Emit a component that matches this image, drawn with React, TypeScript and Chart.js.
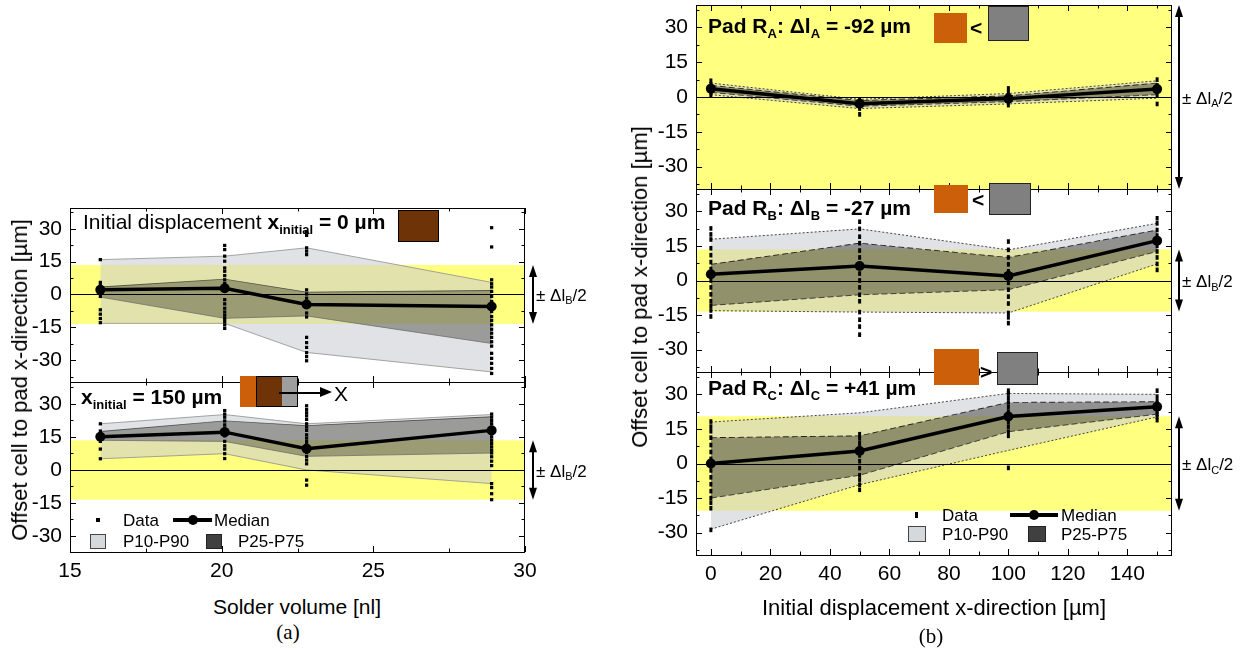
import React, { useEffect, useRef } from 'react';
import { Chart, registerables } from 'chart.js';

Chart.register(...registerables);

const SANS = '"Liberation Sans", Arial, Helvetica, sans-serif';
const SERIF = '"Liberation Serif", "Times New Roman", serif';

// ---------------- Panel (a): solder volume ----------------
const solderVolume = [16.0, 20.1, 22.8, 28.9];

// x_initial = 0 µm
const a0Median = [2.1, 2.8, -4.6, -5.5];
const a0P90 = [15.9, 17.5, 21.3, 5.5];
const a0P75 = [3.4, 7.0, 1.1, 1.8];
const a0P25 = [-1.2, -10.9, -9.8, -22.4];
const a0P10 = [-13.2, -13.2, -26.5, -35.4];
const a0Data16 = [15.9, 5.5, 4.0, 2.9, 1.4, -0.9, -7.0, -9.0, -11.0, -12.9];
const a0Data20 = [22.4, 20.5, 17.5, 15.2, 12.1, 10.6, 8.6, 6.7, 5.0, 3.3, 1.4, -2.4, -4.3, -6.3, -8.0, -9.5, -11.0, -12.4, -13.9, -15.5];
const a0Data23 = [28.5, 27.0, 21.3, 19.8, 18.2, 2.1, 0.2, -1.7, -4.0, -5.5, -8.5, -10.3, -19.6, -22.0, -24.2, -26.6, -28.4, -30.3];
const a0Data29 = [30.5, 21.7, 6.7, 4.9, 3.4, 1.4, -0.9, -3.2, -5.5, -7.8, -10.1, -11.9, -13.9, -15.9, -17.7, -19.6, -21.6, -23.6, -26.9, -29.2, -31.5, -33.8, -36.1];

// x_initial = 150 µm
const a150Median = [15.1, 17.2, 9.7, 18.0];
const a150P90 = [21.0, 25.2, 21.0, 25.2];
const a150P75 = [17.5, 22.3, 20.2, 24.2];
const a150P25 = [13.5, 13.0, 6.2, 7.7];
const a150P10 = [5.1, 7.4, 0.0, -6.2];
const a150Data16 = [21.0, 17.7, 15.1, 13.0, 9.5, 5.1];
const a150Data20 = [27.0, 25.4, 24.0, 22.3, 20.5, 19.0, 17.2, 15.5, 13.0, 11.0, 9.5, 7.4, 5.2];
const a150Data23 = [29.2, 27.5, 26.0, 24.6, 23.0, 21.0, 19.5, 18.0, 16.0, 14.5, 13.0, 11.5, 9.7, 8.0, 6.2, 4.5, 2.8, -4.6, -6.9];
const a150Data29 = [25.4, 24.0, 22.5, 21.0, 19.5, 18.0, 16.5, 15.0, 13.5, 12.0, 10.5, 9.0, 7.7, 6.0, 4.0, 2.0, -6.2, -8.0, -10.8, -13.5];

// ---------------- Panel (b): initial displacement ----------------
const displacement = [0, 50, 100, 150];

// Pad R_A
const raMedian = [3.6, -2.9, -0.7, 3.4];
const raP90 = [6.0, -1.0, 1.5, 7.0];
const raP75 = [5.0, -1.5, 0.5, 6.0];
const raP25 = [2.0, -4.0, -2.0, 1.0];
const raP10 = [1.0, -5.0, -3.0, -0.5];
const raData0 = [7.0, 5.5, 3.5, 2.0, 1.0];
const raData50 = [-1.0, -2.5, -3.5, -5.0, -7.5];
const raData100 = [3.7, 2.0, 0.0, -1.5, -3.5];
const raData150 = [7.5, 5.0, 3.5, 1.0, -3.0];

// Pad R_B
const rbMedian = [2.7, 6.3, 2.0, 17.3];
const rbP90 = [17.9, 22.4, 13.3, 24.8];
const rbP75 = [7.0, 16.2, 10.0, 21.9];
const rbP25 = [-10.8, -6.2, -4.0, 12.6];
const rbP10 = [-13.1, -13.7, -14.1, 7.2];
const rbData0 = [22.6, 20.0, 17.8, 14.0, 11.0, 8.0, 5.0, 2.5, 0.0, -3.0, -6.0, -9.0, -11.0, -13.0, -15.6];
const rbData50 = [25.5, 22.4, 19.0, 16.2, 13.0, 10.0, 6.3, 3.0, 0.0, -3.0, -6.2, -9.0, -13.7, -17.0, -20.0, -23.5];
const rbData100 = [16.9, 13.3, 10.0, 7.0, 4.0, 2.0, -1.0, -4.0, -7.0, -10.0, -14.1, -16.0, -18.5];
const rbData150 = [27.0, 24.8, 21.9, 19.5, 17.3, 15.0, 12.6, 10.0, 7.2, 4.6];

// Pad R_C
const rcMedian = [0.0, 5.4, 20.4, 24.6];
const rcP90 = [18.0, 22.0, 30.4, 30.0];
const rcP75 = [11.2, 12.0, 26.5, 26.8];
const rcP25 = [-15.0, -5.1, 13.8, 21.4];
const rcP10 = [-28.5, -9.2, 5.7, 20.2];
const rcData0 = [18.2, 16.0, 14.0, 11.2, 8.0, 5.0, 2.0, 0.0, -3.0, -6.0, -9.0, -12.0, -15.0, -17.0, -19.4, -28.8];
const rcData50 = [12.7, 11.0, 9.0, 7.0, 5.4, 3.5, 1.0, -2.0, -5.1, -7.0, -9.2, -11.4];
const rcData100 = [31.6, 30.4, 28.5, 26.5, 24.5, 22.5, 20.4, 18.0, 16.0, 13.8, 12.0, -1.9];
const rcData150 = [31.6, 29.0, 27.0, 26.0, 24.6, 22.5, 21.4, 20.2, 18.8];

// tolerance half widths ±Δl/2
const halfDlB = 13.5;
const halfDlA = 46;
const halfDlC = 20.5;

// ticks
const yTicks = [-30, -15, 0, 15, 30];
const yMinor = [-37.5, -22.5, -7.5, 7.5, 22.5, 37.5];
const xTicksA = [15, 20, 25, 30];
const xMinorA = [17.5, 22.5, 27.5];
const xTicksB = [0, 20, 40, 60, 80, 100, 120, 140];
const xMinorB = [10, 30, 50, 70, 90, 110, 130, 150];

// ---------------- layout ----------------
const AXW = 70; // width reserved for y tick labels
const PT = 28; // top padding of each canvas
const PB = 28; // bottom padding of canvases without x axis
const XH = 42; // x-axis height
const YELLOW = 'rgb(255,255,128)';
const LIGHT = 'rgba(200,203,207,0.55)';

type Sub = {
  x: number[];
  median: number[];
  p10: number[];
  p25: number[];
  p75: number[];
  p90: number[];
  data: number[][];
  band: number;
  bandSub: string;
  xMin: number;
  xMax: number;
  yMin: number;
  yMax: number;
  xTicks: number[];
  xMinor: number[];
  showX: boolean;
  look: 'a' | 'b';
  frameLeft: number;
  frameTop: number;
  frameW: number;
  frameH: number;
  rightPad: number;
};

const subs: Sub[] = [
  {
    x: solderVolume, median: a0Median, p10: a0P10, p25: a0P25, p75: a0P75, p90: a0P90,
    data: [a0Data16, a0Data20, a0Data23, a0Data29], band: halfDlB, bandSub: 'B',
    xMin: 15, xMax: 30, yMin: -40, yMax: 39.5, xTicks: xTicksA, xMinor: xMinorA, showX: false, look: 'a',
    frameLeft: 70, frameTop: 208, frameW: 455, frameH: 174, rightPad: 75,
  },
  {
    x: solderVolume, median: a150Median, p10: a150P10, p25: a150P25, p75: a150P75, p90: a150P90,
    data: [a150Data16, a150Data20, a150Data23, a150Data29], band: halfDlB, bandSub: 'B',
    xMin: 15, xMax: 30, yMin: -37.3, yMax: 40, xTicks: xTicksA, xMinor: xMinorA, showX: true, look: 'a',
    frameLeft: 70, frameTop: 382, frameW: 455, frameH: 170, rightPad: 75,
  },
  {
    x: displacement, median: raMedian, p10: raP10, p25: raP25, p75: raP75, p90: raP90,
    data: [raData0, raData50, raData100, raData150], band: halfDlA, bandSub: 'A',
    xMin: -5, xMax: 155, yMin: -39.7, yMax: 39.7, xTicks: xTicksB, xMinor: xMinorB, showX: false, look: 'b',
    frameLeft: 696, frameTop: 5, frameW: 476, frameH: 184, rightPad: 76,
  },
  {
    x: displacement, median: rbMedian, p10: rbP10, p25: rbP25, p75: rbP75, p90: rbP90,
    data: [rbData0, rbData50, rbData100, rbData150], band: halfDlB, bandSub: 'B',
    xMin: -5, xMax: 155, yMin: -39.7, yMax: 39.7, xTicks: xTicksB, xMinor: xMinorB, showX: false, look: 'b',
    frameLeft: 696, frameTop: 189, frameW: 476, frameH: 183, rightPad: 76,
  },
  {
    x: displacement, median: rcMedian, p10: rcP10, p25: rcP25, p75: rcP75, p90: rcP90,
    data: [rcData0, rcData50, rcData100, rcData150], band: halfDlC, bandSub: 'C',
    xMin: -5, xMax: 155, yMin: -39.7, yMax: 39.7, xTicks: xTicksB, xMinor: xMinorB, showX: true, look: 'b',
    frameLeft: 696, frameTop: 372, frameW: 476, frameH: 183, rightPad: 76,
  },
];

function canvasBox(s: Sub) {
  const left = s.frameLeft - AXW;
  const top = s.frameTop - PT;
  const width = AXW + s.frameW + s.rightPad;
  const height = PT + s.frameH + (s.showX ? XH : PB);
  return { left, top, width, height };
}

function makeConfig(s: Sub): any {
  const pts = (ys: number[]) => ys.map((y, i) => ({ x: s.x[i], y }));
  const scatter: { x: number; y: number }[] = [];
  s.data.forEach((col, i) => col.forEach((v) => scatter.push({ x: s.x[i], y: v })));
  const isA = s.look === 'a';
  // dark band is multiplied onto the light band / yellow
  const dark = isA ? 'rgb(176,176,172)' : 'rgb(164,164,160)';
  const outer = isA
    ? { borderColor: '#8f8f8f', borderWidth: 0.8, borderDash: [] as number[] }
    : { borderColor: '#333', borderWidth: 0.9, borderDash: [2, 2] };
  const inner = isA
    ? { borderColor: '#6f6f6f', borderWidth: 0.8, borderDash: [] as number[] }
    : { borderColor: '#333', borderWidth: 0.9, borderDash: [6, 3] };

  const deco = {
    id: 'deco',
    beforeDatasetsDraw(chart: any) {
      const { ctx, chartArea: a } = chart;
      const y = chart.scales.y;
      ctx.save();
      ctx.beginPath();
      ctx.rect(a.left, a.top, a.right - a.left, a.bottom - a.top);
      ctx.clip();
      ctx.fillStyle = YELLOW;
      const yt = y.getPixelForValue(s.band);
      const yb = y.getPixelForValue(-s.band);
      ctx.fillRect(a.left, yt, a.right - a.left, yb - yt);
      ctx.restore();
    },
    afterDatasetDraw(chart: any, args: any) {
      const ctx = chart.ctx;
      if (args.index === 4) ctx.globalCompositeOperation = 'multiply';
      if (args.index === 3) ctx.globalCompositeOperation = 'source-over';
    },
    afterDatasetsDraw(chart: any) {
      const { ctx, chartArea: a } = chart;
      const y = chart.scales.y;
      ctx.save();
      ctx.globalCompositeOperation = 'source-over';
      const y0 = Math.round(y.getPixelForValue(0)) + 0.5;
      ctx.strokeStyle = '#000';
      ctx.lineWidth = 1;
      ctx.beginPath();
      ctx.moveTo(a.left, y0);
      ctx.lineTo(a.right, y0);
      ctx.stroke();
      ctx.restore();
    },
    afterDraw(chart: any) {
      const { ctx, chartArea: a } = chart;
      const x = chart.scales.x;
      const y = chart.scales.y;
      const L = Math.round(a.left);
      const R = Math.round(a.right);
      const T = Math.round(a.top);
      const B = Math.round(a.bottom);
      ctx.save();
      ctx.globalCompositeOperation = 'source-over';
      ctx.strokeStyle = '#000';
      ctx.lineWidth = 1;
      ctx.strokeRect(L + 0.5, T + 0.5, R - L - 1, B - T);
      const tick = (px: number, len: number, vertical: boolean) => {
        ctx.beginPath();
        if (vertical) {
          ctx.moveTo(px, B);
          ctx.lineTo(px, B - len);
          ctx.moveTo(px, T);
          ctx.lineTo(px, T + len);
        } else {
          ctx.moveTo(L, px);
          ctx.lineTo(L + len, px);
          ctx.moveTo(R, px);
          ctx.lineTo(R - len, px);
        }
        ctx.stroke();
      };
      s.xTicks.forEach((v) => tick(Math.round(x.getPixelForValue(v)) + 0.5, 6, true));
      s.xMinor.forEach((v) => tick(Math.round(x.getPixelForValue(v)) + 0.5, 3.5, true));
      yTicks.forEach((v) => tick(Math.round(y.getPixelForValue(v)) + 0.5, 6, false));
      yMinor
        .filter((v) => v > s.yMin && v < s.yMax)
        .forEach((v) => tick(Math.round(y.getPixelForValue(v)) + 0.5, 3.5, false));

      // ± Δl/2 arrow
      const xr = R + (isA ? 8 : 7);
      const yt = Math.max(y.getPixelForValue(s.band), a.top);
      const yb = Math.min(y.getPixelForValue(-s.band), a.bottom);
      const ah = 12;
      const aw = 4;
      ctx.fillStyle = '#000';
      ctx.lineWidth = 2;
      ctx.beginPath();
      ctx.moveTo(xr, yt + ah - 1);
      ctx.lineTo(xr, yb - ah + 1);
      ctx.stroke();
      ctx.beginPath();
      ctx.moveTo(xr, yt);
      ctx.lineTo(xr - aw, yt + ah);
      ctx.lineTo(xr + aw, yt + ah);
      ctx.closePath();
      ctx.fill();
      ctx.beginPath();
      ctx.moveTo(xr, yb);
      ctx.lineTo(xr - aw, yb - ah);
      ctx.lineTo(xr + aw, yb - ah);
      ctx.closePath();
      ctx.fill();

      const ty = y.getPixelForValue(0) + 2;
      let tx = xr + 3;
      ctx.textBaseline = 'middle';
      ctx.textAlign = 'left';
      ctx.font = `17px ${SANS}`;
      ctx.fillText('\u00b1 \u0394l', tx, ty);
      tx += ctx.measureText('\u00b1 \u0394l').width;
      ctx.font = `11px ${SANS}`;
      ctx.fillText(s.bandSub, tx, ty + 5);
      tx += ctx.measureText(s.bandSub).width;
      ctx.font = `17px ${SANS}`;
      ctx.fillText('/2', tx, ty);
      ctx.restore();
    },
  };

  const tickFont = { family: SANS, size: 21 };

  return {
    type: 'line',
    data: {
      datasets: [
        {
          label: 'Median', data: pts(s.median), borderColor: '#000', borderWidth: 3.5,
          pointRadius: 5, pointHoverRadius: 5, pointBackgroundColor: '#000', pointBorderColor: '#000',
          pointBorderWidth: 0, fill: false, tension: 0,
        },
        {
          label: 'Data', data: scatter, showLine: false,
          pointStyle: isA ? 'rect' : 'line', rotation: isA ? 0 : 90,
          pointRadius: 2.3, pointHoverRadius: 2.3,
          pointBackgroundColor: '#000', pointBorderColor: '#000', pointBorderWidth: isA ? 0 : 3,
          borderWidth: 0, fill: false,
        },
        { label: 'P25', data: pts(s.p25), ...inner, pointRadius: 0, fill: false, tension: 0 },
        { label: 'P75', data: pts(s.p75), ...inner, pointRadius: 0, fill: 2, backgroundColor: dark, tension: 0 },
        { label: 'P10', data: pts(s.p10), ...outer, pointRadius: 0, fill: false, tension: 0 },
        { label: 'P90', data: pts(s.p90), ...outer, pointRadius: 0, fill: 4, backgroundColor: LIGHT, tension: 0 },
      ],
    },
    options: {
      responsive: false,
      maintainAspectRatio: false,
      animation: false,
      devicePixelRatio: 1,
      events: [],
      layout: { padding: { top: PT, right: s.rightPad, bottom: s.showX ? 0 : PB, left: 0 } },
      plugins: { legend: { display: false }, tooltip: { enabled: false } },
      scales: {
        x: {
          type: 'linear', min: s.xMin, max: s.xMax, display: s.showX,
          afterBuildTicks: (sc: any) => { sc.ticks = s.xTicks.map((v) => ({ value: v })); },
          afterFit: (sc: any) => { sc.height = s.showX ? XH : 0; },
          ticks: { font: tickFont, color: '#000', padding: 7, maxRotation: 0, autoSkip: false },
          grid: { display: false, drawTicks: false },
          border: { display: false },
        },
        y: {
          type: 'linear', min: s.yMin, max: s.yMax,
          afterBuildTicks: (sc: any) => { sc.ticks = yTicks.map((v) => ({ value: v })); },
          afterFit: (sc: any) => { sc.width = AXW; },
          ticks: { font: tickFont, color: '#000', padding: 8, autoSkip: false },
          grid: { display: false, drawTicks: false },
          border: { display: false },
        },
      },
    },
    plugins: [deco],
  };
}

function SubChart({ s }: { s: Sub }) {
  const ref = useRef<HTMLCanvasElement | null>(null);
  const box = canvasBox(s);
  useEffect(() => {
    if (!ref.current) return;
    const chart = new Chart(ref.current, makeConfig(s));
    return () => chart.destroy();
  }, []);
  return (
    <canvas
      ref={ref}
      width={box.width}
      height={box.height}
      style={{ position: 'absolute', left: box.left, top: box.top, width: box.width, height: box.height }}
    />
  );
}

const Txt = ({ left, cy, size = 21, bold = false, family = SANS, children }: any) => (
  <div
    style={{
      position: 'absolute', left, top: cy, transform: 'translateY(-50%)', fontFamily: family,
      fontSize: size, fontWeight: bold ? 'bold' : 'normal', lineHeight: 1, whiteSpace: 'nowrap', color: '#000',
    }}
  >
    {children}
  </div>
);

const CTxt = ({ cx, cy, size = 21, family = SANS, rotate = false, children }: any) => (
  <div
    style={{
      position: 'absolute', left: cx, top: cy,
      transform: `translate(-50%,-50%)${rotate ? ' rotate(-90deg)' : ''}`,
      fontFamily: family, fontSize: size, lineHeight: 1, whiteSpace: 'nowrap', color: '#000',
    }}
  >
    {children}
  </div>
);

const Sub2 = ({ children }: any) => (
  <span style={{ fontSize: '0.62em', position: 'relative', top: '0.35em' }}>{children}</span>
);

const Box = ({ left, top, w, h, bg, border }: any) => (
  <div
    style={{
      position: 'absolute', left, top, width: w, height: h, background: bg,
      border: border || 'none', boxSizing: 'border-box',
    }}
  />
);

const ORANGE = 'rgb(204,96,10)';
const BROWN = 'rgb(110,52,8)';
const PADGRAY = 'rgb(128,128,128)';

function Legend({ cy1, cy2, dataMarkB, x }: any) {
  return (
    <>
      {dataMarkB ? (
        <Box left={x.dm - 1.5} top={cy1 - 3} w={3} h={6} bg="#000" />
      ) : (
        <Box left={x.dm - 2} top={cy1 - 2} w={4} h={4} bg="#000" />
      )}
      <Txt left={x.dt} cy={cy1} size={17}>Data</Txt>
      <Box left={x.ml} top={cy1 - 1.75} w={x.mw} h={3.5} bg="#000" />
      <div
        style={{
          position: 'absolute', left: x.ml + x.mw / 2 - 5, top: cy1 - 5, width: 10, height: 10,
          borderRadius: 5, background: '#000',
        }}
      />
      <Txt left={x.mt} cy={cy1} size={17}>Median</Txt>
      <Box left={x.lb} top={cy2 - x.bh / 2} w={x.bw} h={x.bh} bg="rgb(214,217,219)" border="1px solid #444" />
      <Txt left={x.lt} cy={cy2} size={17}>P10-P90</Txt>
      <Box left={x.db} top={cy2 - x.bh / 2} w={x.bw} h={x.bh} bg="rgb(64,64,64)" border="1px solid #222" />
      <Txt left={x.dt2} cy={cy2} size={17}>P25-P75</Txt>
    </>
  );
}

export default function App() {
  return (
    <div
      style={{
        position: 'absolute', left: 0, top: 0, width: 1248, height: 657, background: '#fff', overflow: 'hidden',
      }}
    >
      {subs.map((s, i) => (
        <SubChart key={i} s={s} />
      ))}

      {/* axis titles */}
      <CTxt cx={20} cy={380} size={22} rotate>Offset cell to pad x-direction [µm]</CTxt>
      <CTxt cx={297} cy={606}>Solder volume [nl]</CTxt>
      <CTxt cx={288} cy={632} family={SERIF}>(a)</CTxt>
      <CTxt cx={640} cy={287} size={22} rotate>Offset cell to pad x-direction [µm]</CTxt>
      <CTxt cx={934} cy={608} size={22}>Initial displacement x-direction [µm]</CTxt>
      <CTxt cx={931} cy={636} family={SERIF}>(b)</CTxt>

      {/* panel (a) annotations */}
      <Txt left={83} cy={221}>
        Initial displacement <b>x<Sub2>initial</Sub2> = 0 µm</b>
      </Txt>
      <Box left={398} top={210} w={41} h={32} bg={BROWN} border="1px solid #000" />
      <Txt left={81} cy={396} bold>
        x<Sub2>initial</Sub2> = 150 µm
      </Txt>
      <Box left={240} top={376} w={16} h={31} bg={ORANGE} />
      <Box left={256} top={376} w={26} h={31} bg={BROWN} />
      <Box left={282} top={376} w={16} h={31} bg="rgb(158,158,158)" />
      <Box left={256} top={376} w={42} h={31} bg="transparent" border="1.5px solid #000" />
      <Box left={279} top={391.5} w={43} h={2.5} bg="#000" />
      <div
        style={{
          position: 'absolute', left: 320, top: 387, width: 0, height: 0,
          borderLeft: '12px solid #000', borderTop: '5.5px solid transparent', borderBottom: '5.5px solid transparent',
        }}
      />
      <Txt left={334} cy={393}>X</Txt>
      <Legend
        cy1={520}
        cy2={541}
        x={{ dm: 98, dt: 123, ml: 173, mw: 39, mt: 214, lb: 90, lt: 123, db: 206, dt2: 238, bw: 16, bh: 15 }}
      />

      {/* panel (b) annotations */}
      <Txt left={708} cy={25} bold>
        Pad R<Sub2>A</Sub2>: Δl<Sub2>A</Sub2> = -92 µm
      </Txt>
      <Box left={934} top={13} w={33} h={30} bg={ORANGE} />
      <Txt left={970} cy={27} bold>&lt;</Txt>
      <Box left={988} top={6} w={41} h={35} bg={PADGRAY} border="1.5px solid #222" />

      <Txt left={708} cy={207} bold>
        Pad R<Sub2>B</Sub2>: Δl<Sub2>B</Sub2> = -27 µm
      </Txt>
      <Box left={934} top={185} w={34} h={28} bg={ORANGE} />
      <Txt left={972} cy={199} bold>&lt;</Txt>
      <Box left={989} top={183} w={42} h={32} bg={PADGRAY} border="1.5px solid #222" />

      <Txt left={708} cy={387} bold>
        Pad R<Sub2>C</Sub2>: Δl<Sub2>C</Sub2> = +41 µm
      </Txt>
      <Box left={934} top={349} w={45} h={36} bg={ORANGE} />
      <Txt left={980} cy={371} bold>&gt;</Txt>
      <Box left={997} top={352} w={41} h={33} bg={PADGRAY} border="1.5px solid #222" />

      <Legend
        cy1={515}
        cy2={534}
        dataMarkB
        x={{ dm: 916, dt: 942, ml: 1010, mw: 48, mt: 1061, lb: 908, lt: 942, db: 1028, dt2: 1061, bw: 18, bh: 16 }}
      />
    </div>
  );
}
